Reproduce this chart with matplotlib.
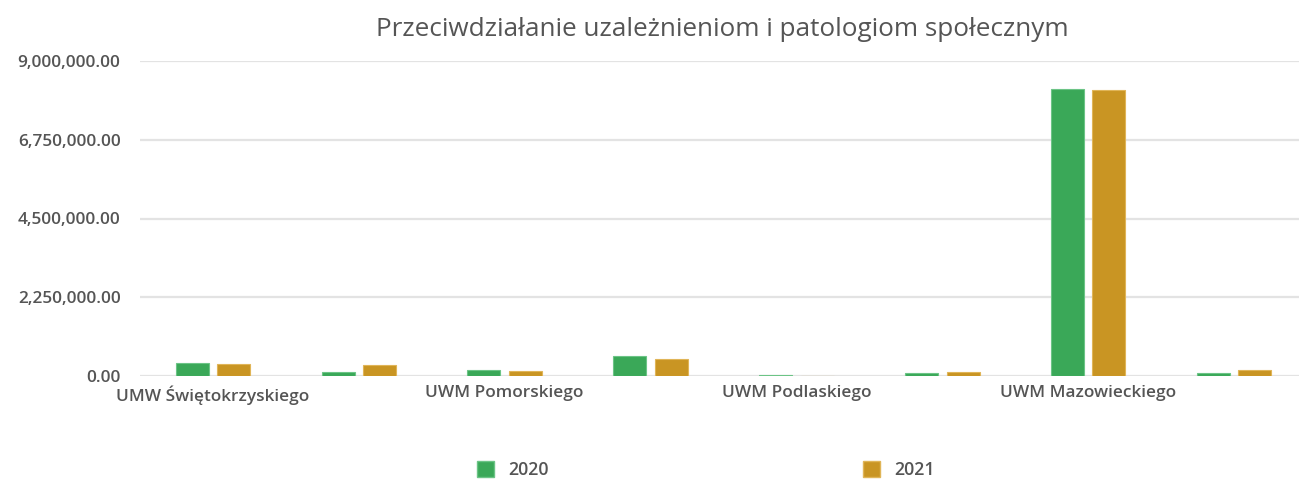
import matplotlib
matplotlib.use("Agg")
import matplotlib.pyplot as plt
from matplotlib.ticker import FuncFormatter, FixedLocator
from matplotlib.patches import Patch
import numpy as np

# ---- data ----
categories = ["UMW Świętokrzyskiego", "", "UWM Pomorskiego", "",
              "UWM Podlaskiego", "", "UWM Mazowieckiego", ""]
tick_labels = ["UMW Świętokrzyskiego", "", "UWM Pomorskiego", "",
               "UWM Podlaskiego", "", "UWM Mazowieckiego", ""]
series_names = ["2020", "2021"]
values_2020 = [381000, 114000, 181000, 581000, 29000, 76000, 8190000, 76000]
values_2021 = [343000, 314000, 143000, 476000, 0, 114000, 8160000, 181000]
y_ticks = [0, 2250000, 4500000, 6750000, 9000000]
title = "Przeciwdziałanie uzależnieniom i patologiom społecznym"

colors = ["#3aa858", "#c99523"]
edge_colors = ["#6cc486", "#e0b558"]
text_color = "#555555"
font = ["Open Sans", "DejaVu Sans"]

plt.rcParams["font.family"] = font

W, H = 1299, 480
fig = plt.figure(figsize=(W / 100, H / 100), dpi=100)
ax_left = 140 / W
ax_bottom = 1 - 376 / H
ax_top = 1 - 61 / H
ax = fig.add_axes([ax_left, ax_bottom, 1 - ax_left, ax_top - ax_bottom])

x = np.arange(len(categories))
bw = 0.226
off = 0.142
ax.bar(x - off, values_2020, width=bw, color=colors[0], edgecolor=edge_colors[0],
       linewidth=0.8, zorder=3, label=series_names[0])
ax.bar(x + off, values_2021, width=bw, color=colors[1], edgecolor=edge_colors[1],
       linewidth=0.8, zorder=3, label=series_names[1])

ax.set_xlim(-0.5, 7 + (1299 - 1234) / 146)
ax.set_ylim(0, 9000000)
ax.yaxis.set_major_locator(FixedLocator(y_ticks))
ax.yaxis.set_major_formatter(FuncFormatter(lambda v, p: f"{v:,.2f}"))
ax.set_xticks(x)
ax.set_xticklabels(tick_labels)

ax.grid(axis="y", color="#e3e3e3", linewidth=1.6, zorder=0)
ax.set_axisbelow(True)
for s in ax.spines.values():
    s.set_visible(False)
ax.tick_params(axis="y", length=0, colors=text_color, labelsize=12.4, pad=14)
ax.tick_params(axis="x", length=0, colors=text_color, labelsize=12.4, pad=6.5)
for lab in ax.get_yticklabels() + ax.get_xticklabels():
    lab.set_fontweight(600)
    lab.set_color(text_color)

fig.text(722 / W, 1 - 29 / H, title, ha="center", va="center",
         fontsize=18.8, color=text_color)

handles = [Patch(facecolor=colors[0], edgecolor=edge_colors[0]),
           Patch(facecolor=colors[1], edgecolor=edge_colors[1])]
leg = fig.legend(handles, series_names, loc="center", ncol=2,
                 bbox_to_anchor=(706 / W, 1 - 470 / H), frameon=False,
                 handlelength=0.95, handleheight=0.95, handletextpad=0.8,
                 columnspacing=17.7, prop={"size": 12.8, "weight": 600})
for t in leg.get_texts():
    t.set_color(text_color)

fig.savefig("out.png", dpi=100)
